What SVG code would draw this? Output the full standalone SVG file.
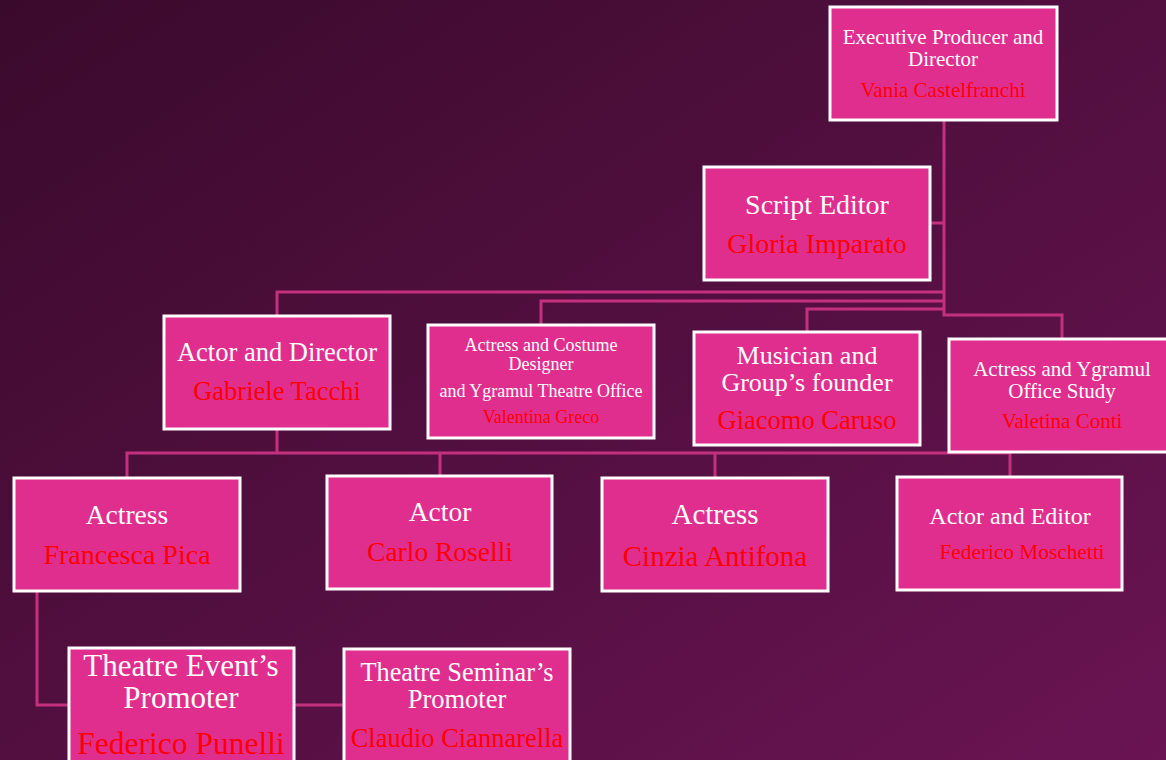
<svg xmlns="http://www.w3.org/2000/svg" width="1166" height="760" viewBox="0 0 1166 760">
<defs>
<linearGradient id="bg" x1="0" y1="0" x2="1" y2="1">
<stop offset="0" stop-color="#3a0a2c"/>
<stop offset="1" stop-color="#6a1453"/>
</linearGradient>
<style>
.box{fill:#e02e8f;stroke:#ffffff;stroke-width:3}
.w{fill:#ffffff;font-family:"Liberation Serif","Times New Roman",serif;text-anchor:middle}
.r{fill:#ff0000;font-family:"Liberation Serif","Times New Roman",serif;text-anchor:middle}
.c{fill:none;stroke:#c4307e;stroke-width:3}
</style>
</defs>
<rect x="0" y="0" width="1166" height="760" fill="url(#bg)"/>
<g id="connectors">
<path class="c" d="M944 120 V315 H1062 V338"/>
<path class="c" d="M931 223 H944"/>
<path class="c" d="M944 292 H277 V315"/>
<path class="c" d="M944 301 H541 V324"/>
<path class="c" d="M944 309 H807 V332"/>
<path class="c" d="M277 429 V453"/>
<path class="c" d="M127 478 V453 H1010 V477"/>
<path class="c" d="M440 453 V476"/>
<path class="c" d="M715 453 V478"/>
<path class="c" d="M37 591 V705 H69"/>
<path class="c" d="M294 705 H344"/>
</g>
<g id="exec">
<rect class="box" x="830" y="7" width="227" height="113"/>
<text class="w" x="943" y="44" font-size="21">Executive Producer and</text>
<text class="w" x="943" y="66" font-size="21">Director</text>
<text class="r" x="943" y="97" font-size="21">Vania Castelfranchi</text>
</g>
<g id="script-editor">
<rect class="box" x="704" y="167" width="226" height="113"/>
<text class="w" x="817" y="214" font-size="28">Script Editor</text>
<text class="r" x="817" y="253" font-size="28">Gloria Imparato</text>
</g>
<g id="actor-director">
<rect class="box" x="164" y="316" width="226" height="113"/>
<text class="w" x="277" y="361" font-size="26.5">Actor and Director</text>
<text class="r" x="277" y="400" font-size="26.5">Gabriele Tacchi</text>
</g>
<g id="costume">
<rect class="box" x="428" y="325" width="226" height="113"/>
<text class="w" x="541" y="351" font-size="18">Actress and Costume</text>
<text class="w" x="541" y="370" font-size="18">Designer</text>
<text class="w" x="541" y="397" font-size="18">and Ygramul Theatre Office</text>
<text class="r" x="541" y="423" font-size="18">Valentina Greco</text>
</g>
<g id="musician">
<rect class="box" x="694" y="332" width="226" height="113"/>
<text class="w" x="807" y="364" font-size="26">Musician and</text>
<text class="w" x="807" y="391" font-size="26">Group’s founder</text>
<text class="r" x="807" y="429" font-size="26.5">Giacomo Caruso</text>
</g>
<g id="ygramul">
<rect class="box" x="949" y="339" width="230" height="113"/>
<text class="w" x="1062" y="376" font-size="21">Actress and Ygramul</text>
<text class="w" x="1062" y="398" font-size="21">Office Study</text>
<text class="r" x="1062" y="428" font-size="21">Valetina Conti</text>
</g>
<g id="francesca">
<rect class="box" x="14" y="478" width="226" height="113"/>
<text class="w" x="127" y="524" font-size="27.5">Actress</text>
<text class="r" x="127" y="564" font-size="28">Francesca Pica</text>
</g>
<g id="carlo">
<rect class="box" x="327" y="476" width="225" height="113"/>
<text class="w" x="440" y="521" font-size="27.5">Actor</text>
<text class="r" x="440" y="561" font-size="27.5">Carlo Roselli</text>
</g>
<g id="cinzia">
<rect class="box" x="602" y="478" width="226" height="113"/>
<text class="w" x="715" y="524" font-size="29">Actress</text>
<text class="r" x="715" y="566" font-size="29">Cinzia Antifona</text>
</g>
<g id="editor">
<rect class="box" x="897" y="477" width="225" height="113"/>
<text class="w" x="1010" y="524" font-size="24">Actor and Editor</text>
<text class="r" x="1022" y="559" font-size="21.3">Federico Moschetti</text>
</g>
<g id="event-promoter">
<rect class="box" x="69" y="648" width="225" height="120"/>
<text class="w" x="181" y="676" font-size="31">Theatre Event’s</text>
<text class="w" x="181" y="708" font-size="31">Promoter</text>
<text class="r" x="181" y="754" font-size="31.5">Federico Punelli</text>
</g>
<g id="seminar-promoter">
<rect class="box" x="344" y="649" width="226" height="120"/>
<text class="w" x="457" y="681" font-size="26.3">Theatre Seminar’s</text>
<text class="w" x="457" y="708" font-size="26.5">Promoter</text>
<text class="r" x="457" y="747" font-size="26.5">Claudio Ciannarella</text>
</g>
</svg>
